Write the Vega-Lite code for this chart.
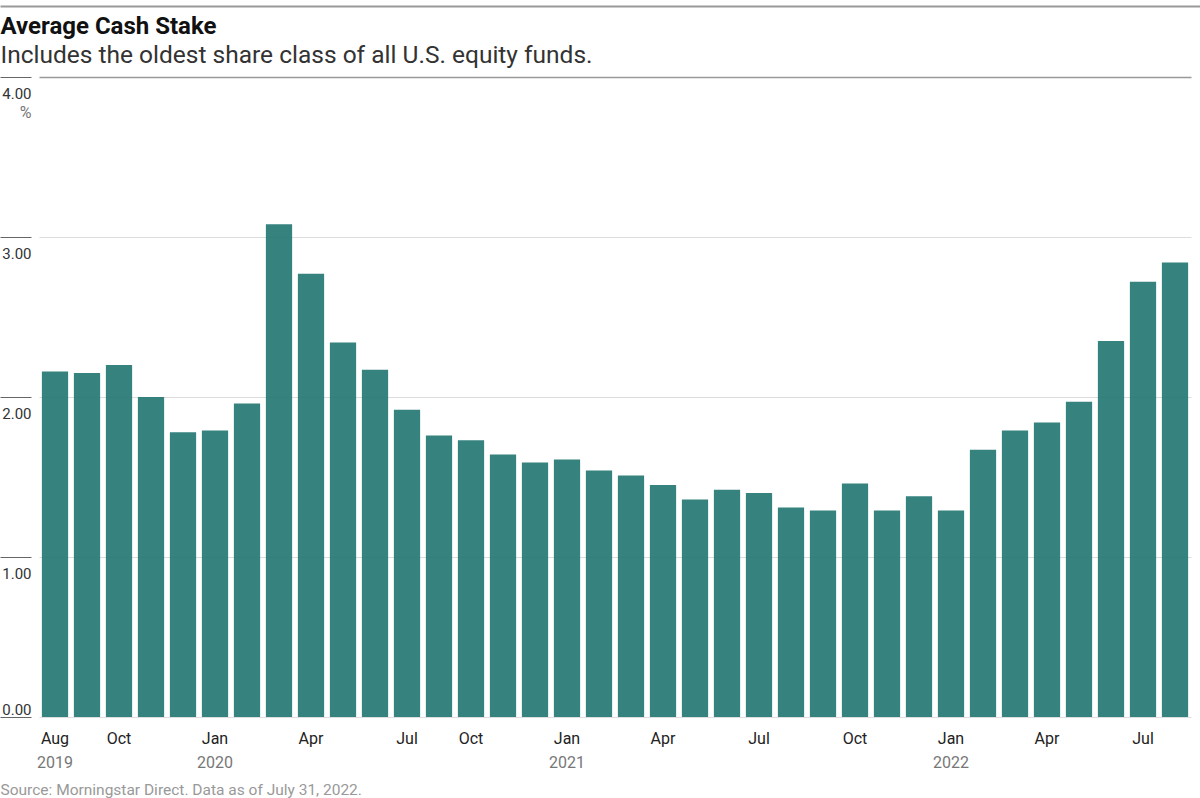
{
  "$schema": "https://vega.github.io/schema/vega-lite/v6.json",
  "description": "Average cash stake of U.S. equity funds, monthly bars",
  "width": 1152,
  "height": 640,
  "autosize": {"type": "none"},
  "padding": {"left": 39, "top": 77, "right": 9, "bottom": 81},
  "data": {
    "values": [
      {"month": "2019-08", "cash": 2.16},
      {"month": "2019-09", "cash": 2.15},
      {"month": "2019-10", "cash": 2.20},
      {"month": "2019-11", "cash": 2.00},
      {"month": "2019-12", "cash": 1.78},
      {"month": "2020-01", "cash": 1.79},
      {"month": "2020-02", "cash": 1.96},
      {"month": "2020-03", "cash": 3.08},
      {"month": "2020-04", "cash": 2.77},
      {"month": "2020-05", "cash": 2.34},
      {"month": "2020-06", "cash": 2.17},
      {"month": "2020-07", "cash": 1.92},
      {"month": "2020-08", "cash": 1.76},
      {"month": "2020-10", "cash": 1.73},
      {"month": "2020-11", "cash": 1.64},
      {"month": "2020-12", "cash": 1.59},
      {"month": "2021-01", "cash": 1.61},
      {"month": "2021-02", "cash": 1.54},
      {"month": "2021-03", "cash": 1.51},
      {"month": "2021-04", "cash": 1.45},
      {"month": "2021-05", "cash": 1.36},
      {"month": "2021-06", "cash": 1.42},
      {"month": "2021-07", "cash": 1.40},
      {"month": "2021-08", "cash": 1.31},
      {"month": "2021-09", "cash": 1.29},
      {"month": "2021-10", "cash": 1.46},
      {"month": "2021-11", "cash": 1.29},
      {"month": "2021-12", "cash": 1.38},
      {"month": "2022-01", "cash": 1.29},
      {"month": "2022-02", "cash": 1.67},
      {"month": "2022-03", "cash": 1.79},
      {"month": "2022-04", "cash": 1.84},
      {"month": "2022-05", "cash": 1.97},
      {"month": "2022-06", "cash": 2.35},
      {"month": "2022-07", "cash": 2.72},
      {"month": "2022-08", "cash": 2.84}
    ]
  },
  "layer": [
    {
      "mark": {"type": "bar", "color": "#1f7470", "opacity": 0.9},
      "encoding": {
        "x": {
          "field": "month",
          "type": "ordinal",
          "scale": {"paddingInner": 0.18, "paddingOuter": 0.09},
          "axis": {
            "title": null,
            "domain": false,
            "ticks": false,
            "tickSize": 0,
            "labelAngle": 0,
            "labelPadding": 26,
            "labelBaseline": "alphabetic",
            "labelFontSize": 16,
            "labelColor": "#222",
            "labelOverlap": false,
            "labelExpr": "(slice(datum.value, 5) == '01' || slice(datum.value, 5) == '04' || slice(datum.value, 5) == '07' || slice(datum.value, 5) == '10' || datum.value == '2019-08') ? ['Jan','Feb','Mar','Apr','May','Jun','Jul','Aug','Sep','Oct','Nov','Dec'][toNumber(slice(datum.value, 5)) - 1] : ''"
          }
        },
        "y": {
          "field": "cash",
          "type": "quantitative",
          "scale": {"domain": [0, 4]},
          "axis": {
            "title": "%",
            "titleAngle": 0,
            "titleAlign": "right",
            "titleBaseline": "alphabetic",
            "titleX": 0,
            "titleY": 40,
            "titleFontSize": 16,
            "titleFontWeight": "normal",
            "titleColor": "#777",
            "values": [0, 1, 2, 3, 4],
            "format": ".2f",
            "offset": 8,
            "domain": false,
            "tickSize": 31,
            "tickColor": "#666",
            "labelPadding": -31,
            "labelAlign": "right",
            "labelBaseline": "alphabetic",
            "labelOffset": {"condition": {"test": "datum.value === 0", "value": -3}, "value": 21},
            "labelFontSize": 15,
            "labelColor": "#333",
            "grid": true,
            "gridColor": {"condition": {"test": "datum.value === 4", "value": "#999"}, "value": "#ddd"},
            "gridWidth": {"condition": {"test": "datum.value === 4", "value": 1.5}, "value": 1}
          }
        }
      }
    },
    {
      "mark": {"type": "bar", "opacity": 0},
      "encoding": {
        "x": {
          "field": "month",
          "type": "ordinal",
          "scale": {"paddingInner": 0.18, "paddingOuter": 0.09},
          "axis": {
            "orient": "bottom",
            "domain": false,
            "ticks": false,
            "tickSize": 0,
            "labelAngle": 0,
            "labelPadding": 50,
            "labelBaseline": "alphabetic",
            "labelFontSize": 16,
            "labelColor": "#777",
            "labelOverlap": false,
            "labelExpr": "(slice(datum.value, 5) == '01' || datum.value == '2019-08') ? slice(datum.value, 0, 4) : ''",
            "title": "Source: Morningstar Direct. Data as of July 31, 2022.",
            "titleX": -39,
            "titleY": 77,
            "titleAlign": "left",
            "titleBaseline": "alphabetic",
            "titleFontSize": 15.5,
            "titleFontWeight": "normal",
            "titleColor": "#999"
          }
        }
      }
    },
    {
      "mark": {"type": "bar", "opacity": 0},
      "encoding": {
        "x": {
          "field": "month",
          "type": "ordinal",
          "scale": {"range": [-39, 1161]},
          "axis": {
            "orient": "top",
            "offset": 71,
            "domain": true,
            "domainColor": "#999",
            "domainWidth": 2,
            "labels": false,
            "ticks": false,
            "grid": false,
            "title": "Average Cash Stake",
            "titleX": -39,
            "titleY": 27,
            "titleAlign": "left",
            "titleBaseline": "alphabetic",
            "titleFontSize": 24,
            "titleFontWeight": "bold",
            "titleColor": "#111"
          }
        }
      }
    },
    {
      "mark": {"type": "bar", "opacity": 0},
      "encoding": {
        "x": {
          "field": "month",
          "type": "ordinal",
          "axis": {
            "orient": "top",
            "offset": 71,
            "domain": false,
            "labels": false,
            "ticks": false,
            "grid": false,
            "title": "Includes the oldest share class of all U.S. equity funds.",
            "titleX": -39,
            "titleY": 56,
            "titleAlign": "left",
            "titleBaseline": "alphabetic",
            "titleFontSize": 24.5,
            "titleFontWeight": "normal",
            "titleColor": "#333"
          }
        }
      }
    }
  ],
  "resolve": {"scale": {"x": "independent"}},
  "config": {
    "view": {"stroke": null},
    "font": "Roboto, Liberation Sans, sans-serif"
  }
}
